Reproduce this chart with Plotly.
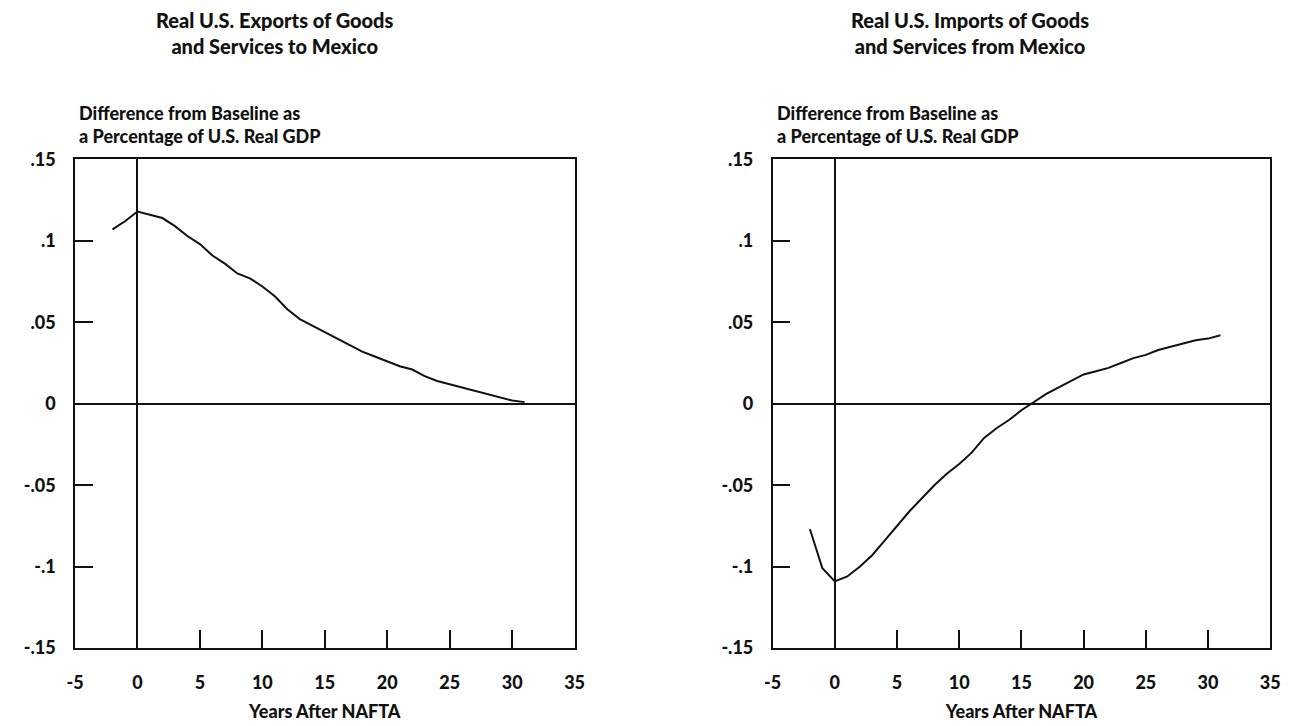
import plotly.graph_objects as go

# Years after NAFTA (annual points)
years = list(range(-2, 32))

# Real U.S. exports of goods and services to Mexico, difference from baseline (% of U.S. real GDP)
exports = [0.107, 0.112, 0.118, 0.116, 0.114, 0.109, 0.103, 0.098, 0.091, 0.086,
           0.080, 0.077, 0.072, 0.066, 0.058, 0.052, 0.048, 0.044, 0.040, 0.036,
           0.032, 0.029, 0.026, 0.023, 0.021, 0.017, 0.014, 0.012, 0.010, 0.008,
           0.006, 0.004, 0.002, 0.001]

# Real U.S. imports of goods and services from Mexico, difference from baseline (% of U.S. real GDP)
imports = [-0.077, -0.101, -0.109, -0.106, -0.100, -0.093, -0.084, -0.075, -0.066, -0.058,
           -0.050, -0.043, -0.037, -0.030, -0.021, -0.015, -0.010, -0.004, 0.001, 0.006,
           0.010, 0.014, 0.018, 0.020, 0.022, 0.025, 0.028, 0.030, 0.033, 0.035,
           0.037, 0.039, 0.040, 0.042]

x_ticks = [-5, 0, 5, 10, 15, 20, 25, 30, 35]
x_tick_text = ["-5", "0", "5", "10", "15", "20", "25", "30", "35"]
y_ticks = [0.15, 0.1, 0.05, 0, -0.05, -0.1, -0.15]
y_tick_text = [".15", ".1", ".05", "0", "-.05", "-.1", "-.15"]

panel_titles = ["Real U.S. Exports of Goods<br>and Services to Mexico",
                "Real U.S. Imports of Goods<br>and Services from Mexico"]
y_title = "Difference from Baseline as<br>a Percentage of U.S. Real GDP"
x_title = "Years After NAFTA"

W, H = 1295, 726
FONT = "Lato"
INK = "#111111"
HEAVY = 900

fig = go.Figure()
fig.add_trace(go.Scatter(x=years, y=exports, mode="lines", xaxis="x", yaxis="y",
                         line=dict(color=INK, width=2), showlegend=False))
fig.add_trace(go.Scatter(x=years, y=imports, mode="lines", xaxis="x2", yaxis="y2",
                         line=dict(color=INK, width=2), showlegend=False))

# pixel boxes of the two panels
left_box = (67, 574)
right_box = (775, 1280)
top_px, bottom_px = 152, 656
ydom = [1 - bottom_px / H, 1 - top_px / H]


def xaxis_cfg(box, anchor):
    return dict(domain=[box[0] / W, box[1] / W], anchor=anchor, range=[-5, 35],
                tickmode="array", tickvals=x_ticks, ticktext=x_tick_text,
                ticks="inside", ticklen=18, tickwidth=1.5, tickcolor=INK,
                showline=True, linecolor=INK, linewidth=1.5, mirror=True,
                showgrid=False, zeroline=True, zerolinecolor=INK, zerolinewidth=1.5,
                ticklabelstandoff=18,
                tickfont=dict(family=FONT, size=18, color=INK, weight=HEAVY),
                title=dict(text=x_title, standoff=13,
                           font=dict(family=FONT, size=18, color=INK, weight=HEAVY)))


def yaxis_cfg(anchor):
    return dict(domain=ydom, anchor=anchor, range=[-0.15, 0.15],
                tickmode="array", tickvals=y_ticks, ticktext=y_tick_text,
                ticks="inside", ticklen=18, tickwidth=1.5, tickcolor=INK,
                showline=True, linecolor=INK, linewidth=1.5, mirror=True,
                showgrid=False, zeroline=True, zerolinecolor=INK, zerolinewidth=1.5,
                ticklabelstandoff=14,
                tickfont=dict(family=FONT, size=18, color=INK, weight=HEAVY))


fig.update_layout(
    width=W, height=H,
    margin=dict(l=0, r=0, t=0, b=0),
    paper_bgcolor="white", plot_bgcolor="white",
    xaxis=xaxis_cfg(left_box, "y"),
    yaxis=yaxis_cfg("x"),
    xaxis2=xaxis_cfg(right_box, "y2"),
    yaxis2=yaxis_cfg("x2"),
)

title_centers = [270, 975]
for box, title, cx in zip([left_box, right_box], panel_titles, title_centers):
    fig.add_annotation(text=title, xref="paper", yref="paper",
                       x=cx / W, y=1 + 6 / H, xanchor="center", yanchor="top",
                       showarrow=False, align="center",
                       font=dict(family=FONT, size=20, color=INK, weight=HEAVY))
    fig.add_annotation(text=y_title, xref="paper", yref="paper",
                       x=(box[0] + 2) / W, y=1 - 91 / H, xanchor="left", yanchor="top",
                       showarrow=False, align="left",
                       font=dict(family=FONT, size=18, color=INK, weight=HEAVY))

fig.write_html("out.html")
